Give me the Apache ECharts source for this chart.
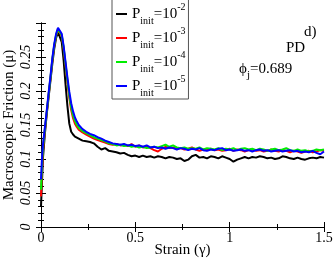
<!DOCTYPE html>
<html><head><meta charset="utf-8">
<script src="https://cdn.jsdelivr.net/npm/echarts@6/dist/echarts.min.js"></script>
<style>html,body{margin:0;padding:0;background:#fff}#c{width:335px;height:261px}</style>
</head><body><div id="c"></div>
<script>
var strain = [0,0.005,0.01,0.02,0.03,0.04,0.05,0.06,0.07,0.08,0.09,0.1,0.11,0.12,0.13,0.14,0.15,0.16,0.17,0.18,0.19,0.2,0.22,0.24,0.26,0.28,0.3,
0.32,0.34,0.36,0.38,0.40,0.42,0.44,0.46,0.48,0.50,0.52,0.54,0.56,0.58,0.60,0.62,0.64,0.66,0.68,0.70,0.72,0.74,0.76,0.78,0.80,0.82,0.84,0.86,0.88,0.90,0.92,0.94,0.96,0.98,1.00,1.02,1.04,1.06,1.08,1.10,1.12,1.14,1.16,1.18,1.20,1.22,1.24,1.26,1.28,1.30,1.32,1.34,1.36,1.38,1.40,1.42,1.44,1.46,1.48,1.50];

var muP2 = [0.03,0.065,0.10,0.135,0.165,0.19,0.215,0.24,0.262,0.278,0.287,0.287,0.272,0.245,0.21,0.178,0.152,0.14,0.136,0.133,0.131,0.13,0.127,0.126,0.125,0.123,0.118,
0.114,0.116,0.112,0.111,0.110,0.108,0.109,0.106,0.104,0.105,0.103,0.105,0.103,0.104,0.102,0.104,0.103,0.101,0.103,0.102,0.100,0.101,0.097,0.099,0.104,0.106,0.102,0.103,0.101,0.104,0.103,0.101,0.104,0.102,0.100,0.096,0.099,0.101,0.103,0.101,0.103,0.102,0.104,0.103,0.101,0.102,0.100,0.101,0.104,0.103,0.101,0.100,0.102,0.100,0.099,0.101,0.102,0.101,0.103,0.102];

var muP3 = [0.045,0.08,0.11,0.14,0.167,0.193,0.218,0.245,0.266,0.281,0.29,0.29,0.281,0.262,0.238,0.213,0.19,0.172,0.16,0.152,0.147,0.143,0.139,0.136,0.133,0.13,0.128,
0.126,0.124,0.122,0.121,0.122,0.12,0.121,0.119,0.122,0.118,0.12,0.117,0.118,0.116,0.113,0.111,0.115,0.118,0.116,0.117,0.115,0.116,0.114,0.115,0.117,0.114,0.112,0.114,0.113,0.115,0.113,0.114,0.112,0.113,0.115,0.112,0.114,0.113,0.111,0.113,0.114,0.112,0.113,0.111,0.112,0.114,0.112,0.111,0.113,0.112,0.11,0.112,0.111,0.109,0.111,0.112,0.11,0.111,0.113,0.112];

var muP4 = [0.055,0.09,0.115,0.142,0.168,0.194,0.219,0.246,0.267,0.282,0.291,0.291,0.282,0.264,0.24,0.216,0.194,0.176,0.164,0.156,0.15,0.146,0.141,0.138,0.135,0.132,0.13,
0.128,0.126,0.123,0.122,0.12,0.121,0.119,0.12,0.118,0.119,0.117,0.118,0.116,0.117,0.118,0.117,0.119,0.121,0.118,0.12,0.117,0.116,0.117,0.115,0.116,0.115,0.117,0.114,0.116,0.115,0.114,0.116,0.113,0.115,0.114,0.116,0.113,0.115,0.116,0.114,0.115,0.113,0.115,0.114,0.112,0.114,0.115,0.113,0.114,0.116,0.113,0.112,0.114,0.112,0.113,0.111,0.112,0.114,0.113,0.114];

var muP5 = [0.07,0.1,0.12,0.145,0.17,0.196,0.221,0.248,0.269,0.284,0.293,0.293,0.284,0.266,0.243,0.22,0.199,0.182,0.17,0.161,0.155,0.15,0.144,0.14,0.137,0.135,0.132,
0.13,0.127,0.125,0.123,0.122,0.121,0.122,0.12,0.121,0.119,0.12,0.118,0.12,0.117,0.118,0.116,0.117,0.115,0.117,0.116,0.114,0.116,0.115,0.113,0.115,0.114,0.116,0.113,0.112,0.114,0.113,0.115,0.116,0.113,0.114,0.112,0.113,0.114,0.112,0.113,0.111,0.113,0.114,0.112,0.113,0.111,0.112,0.113,0.111,0.112,0.113,0.111,0.112,0.11,0.111,0.11,0.112,0.109,0.107,0.111];

var exponents = ['-2','-3','-4','-5'];
var seriesNames = ['P1e-2','P1e-3','P1e-4','P1e-5'];
var colors = ['#000000','#ff0000','#00ee00','#0000ff'];
var seriesValues = [muP2, muP3, muP4, muP5];
var xTicks = ['0','0.5','1','1.5'];
var yTicks = ['0','0.05','0.1','0.15','0.2','0.25'];

var FONT = 'Liberation Serif';
function pairs(ys){ return strain.map(function(x,i){ return [x, ys[i]]; }); }

var chart = echarts.init(document.getElementById('c'), null, {renderer:'canvas'});
var axisCommon = {
  axisLine:{show:true, lineStyle:{color:'#000', width:1}},
  axisTick:{show:true, inside:true, length:5, lineStyle:{color:'#000'}},
  splitLine:{show:false}
};
var option = {
  animation:false,
  grid:{left:41, right:11, top:23, bottom:34, containLabel:false, outerBoundsMode:'none'},
  xAxis:[
    Object.assign({type:'value', min:0, max:1.5, interval:0.5, position:'bottom',
      name:'Strain (\u03b3)', nameLocation:'middle', nameGap:16, nameMoveOverlap:false,
      nameTextStyle:{fontFamily:FONT, fontSize:15, color:'#000'},
      axisLabel:{margin:4, fontFamily:FONT, fontSize:14, color:'#000',
        formatter:function(v){ var i=Math.round(v/0.5); return xTicks[i]; }}
    }, axisCommon, {minorTick:{show:true, splitNumber:2, length:3, lineStyle:{color:'#000'}}}),
    Object.assign({type:'value', min:0, max:1.5, interval:0.5, position:'top', axisLabel:{show:false}},
      axisCommon, {minorTick:{show:true, splitNumber:2, length:3, lineStyle:{color:'#000'}}})
  ],
  yAxis:[
    Object.assign({type:'value', min:0, max:0.3, interval:0.05, position:'left',
      name:'Macroscopic Friction (\u03bc)', nameLocation:'middle', nameGap:24, nameMoveOverlap:false,
      nameTextStyle:{fontFamily:FONT, fontSize:15, color:'#000'},
      axisLabel:{margin:8, rotate:90, fontFamily:FONT, fontSize:14, fontStyle:'italic', color:'#000', showMaxLabel:false,
        formatter:function(v){ var i=Math.round(v/0.05); return i<yTicks.length? yTicks[i] : ''; }}
    }, axisCommon, {minorTick:{show:true, splitNumber:5, length:3, lineStyle:{color:'#000'}}}),
    Object.assign({type:'value', min:0, max:0.3, interval:0.05, position:'right', axisLabel:{show:false}},
      axisCommon, {minorTick:{show:true, splitNumber:5, length:3, lineStyle:{color:'#000'}}})
  ],
  legend:{
    data:seriesNames, orient:'vertical', left:112, top:-2,
    padding:[4,3,1,4], itemGap:0, itemWidth:11, itemHeight:2, icon:'rect',
    borderColor:'#555', borderWidth:1, backgroundColor:'#fff',
    formatter:function(name){ var i=seriesNames.indexOf(name); return '{a|P}{b|init}{a|=10}{c|'+exponents[i]+'}'; },
    textStyle:{fontFamily:FONT, color:'#000',
      rich:{
        a:{fontFamily:FONT, fontSize:15, lineHeight:24, color:'#000'},
        b:{fontFamily:FONT, fontSize:10, lineHeight:12, verticalAlign:'bottom', color:'#000'},
        c:{fontFamily:FONT, fontSize:10, lineHeight:12, verticalAlign:'top', color:'#000'}
      }}
  },
  graphic:[
    {type:'text', left:304, top:25, z:10, style:{text:'d)', font:'15px "Liberation Serif"', fill:'#000'}},
    {type:'text', left:286, top:41, z:10, style:{text:'PD', font:'15px "Liberation Serif"', fill:'#000'}},
    {type:'text', left:239, top:62, z:10, style:{text:'{a|\u03d5}{b|j}{a|=0.689}', fill:'#000',
      rich:{a:{fontFamily:FONT, fontSize:15, lineHeight:22, fill:'#000'}, b:{fontFamily:FONT, fontSize:11, lineHeight:12, verticalAlign:'bottom', fill:'#000'}}}}
  ],
  series: seriesNames.map(function(n,i){
    return {name:n, type:'line', data:pairs(seriesValues[i]), showSymbol:false, symbol:'none',
      lineStyle:{color:colors[i], width:2}, itemStyle:{color:colors[i]}, z:2+i};
  })
};
chart.setOption(option);
</script>
</body></html>
